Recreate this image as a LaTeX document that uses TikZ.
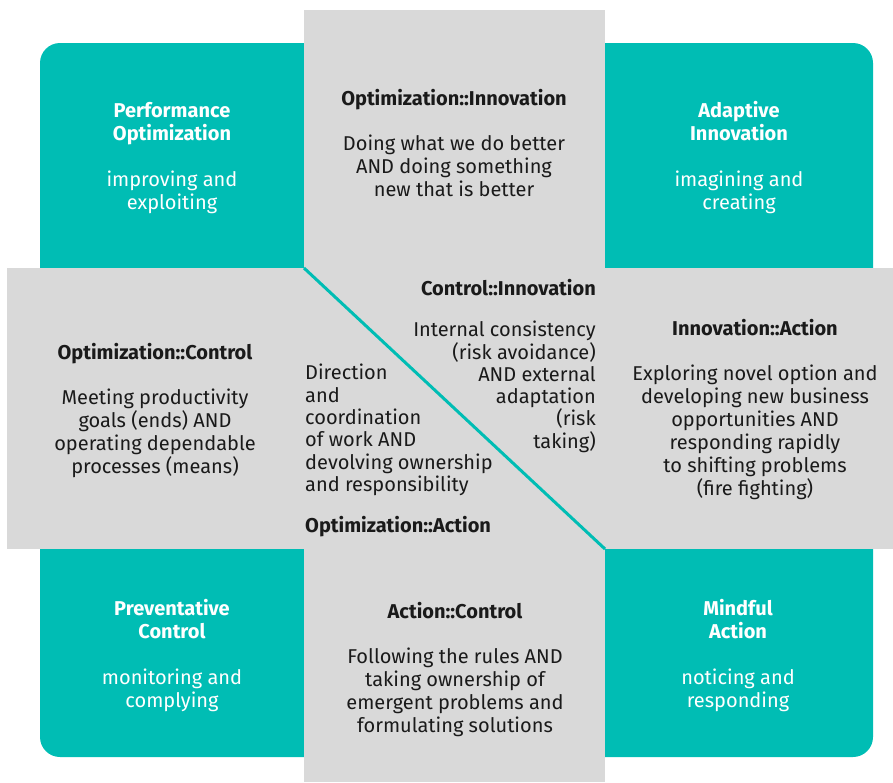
\documentclass[tikz,border=0pt]{standalone}
\usepackage{fontspec}
\setmainfont{Fira Sans}
\usepackage{tikz}
\definecolor{teal}{RGB}{0,189,180}
\definecolor{band}{RGB}{217,217,217}
\definecolor{ink}{RGB}{26,26,26}
\tikzset{
	quadrant/.style={text=white, align=center, font=\fontsize{20}{23}\selectfont},
	paradox/.style={text=ink, align=center, font=\fontsize{20}{23}\selectfont},
}

\begin{document}
\begin{tikzpicture}[x=1pt,y=-1pt]
		\useasboundingbox (0,0) rectangle (893,782);
		
		% draw teal background and gray bands
		\fill[teal, rounded corners=20pt] (40,43) rectangle (873,757);
		\fill[band] (304,10) rectangle (605,782);
		\fill[band] (7,268) rectangle (893,549);
		
		% draw diagonal line
		\coordinate (tl) at (304,268);
		\coordinate (br) at (605,549);
		\draw[teal, line width=3pt] (tl) -- (br);
		
		% draw corner quadrants
		\node[quadrant] (perf) at (172,158) {\textbf{Performance}\\\textbf{Optimization}\\[23pt] improving and\\exploiting};
		\node[quadrant] (adapt) at (739,158) {\textbf{Adaptive}\\\textbf{Innovation}\\[23pt] imagining and\\creating};
		\node[quadrant] (prev) at (172,656) {\textbf{Preventative}\\\textbf{Control}\\[23pt] monitoring and\\complying};
		\node[quadrant] (mind) at (738,656) {\textbf{Mindful}\\\textbf{Action}\\[23pt] noticing and\\responding};
		
		% draw paradoxes on the bands
		\node[paradox] (optinn) at (454,143) {\textbf{Optimization::Innovation}\\[22pt] Doing what we do better\\AND doing something\\new that is better};
		\node[paradox] (optctl) at (155,411) {\textbf{Optimization::Control}\\[22pt] Meeting productivity\\goals (ends) AND\\operating dependable\\processes (means)};
		\node[paradox] (innact) at (755,410) {\textbf{Innovation::Action}\\[22pt] Exploring novel option and\\developing new business\\opportunities AND\\responding rapidly\\to shifting problems\\(fire fighting)};
		\node[paradox] (actctl) at (455,670) {\textbf{Action::Control}\\[22pt] Following the rules AND\\taking ownership of\\emergent problems and\\formulating solutions};
		
		% draw the two halves of the centre
		\node[paradox, align=right, anchor=north east, inner sep=0pt, font=\fontsize{20}{22.3}\selectfont] (ctlinn) at (596,279) {\textbf{Control::Innovation}\\[19pt] Internal consistency\\(risk avoidance)\\AND external\\adaptation\\(risk\\taking)};
		\node[paradox, align=left, anchor=north west, inner sep=0pt, font=\fontsize{20}{22.3}\selectfont] (optact) at (305,364) {Direction\\and\\coordination\\of work AND\\devolving ownership\\and responsibility\\[19pt] \textbf{Optimization::Action}};
\end{tikzpicture}
\end{document}
